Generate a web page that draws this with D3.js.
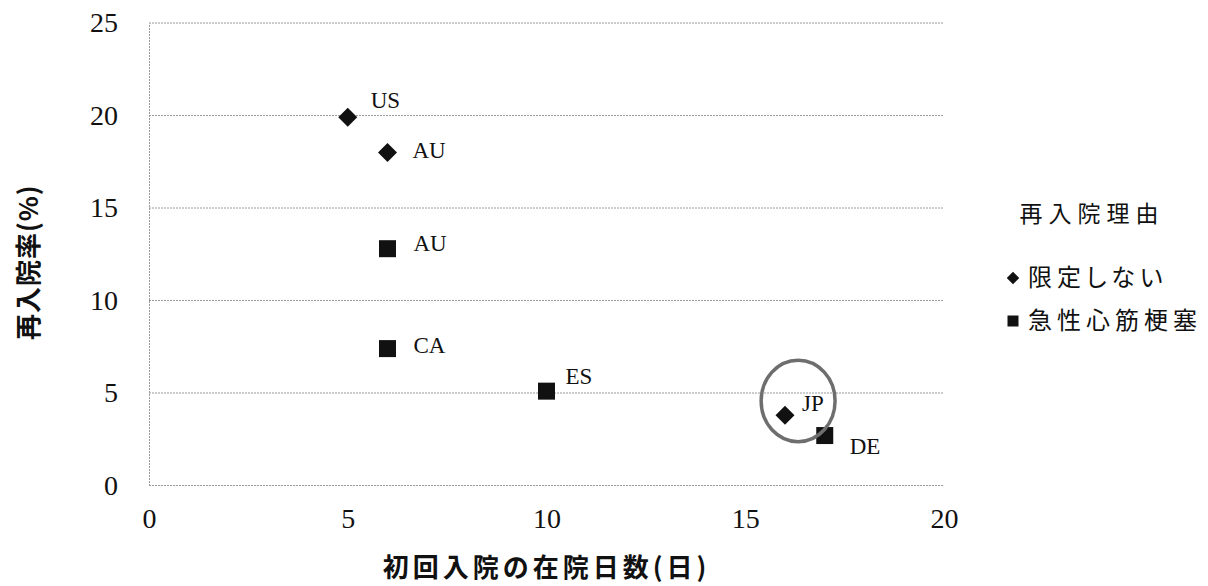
<!DOCTYPE html>
<html>
<head>
<meta charset="utf-8">
<script src="https://cdn.jsdelivr.net/npm/d3@7"></script>
<style>
  html, body { margin: 0; padding: 0; background: #fff; }
  svg { display: block; }
</style>
</head>
<body>
<svg id="chart" width="1208" height="586"></svg>
<script>
// Series: countries, length of stay of first admission (days), readmission rate (%)
const seriesNames = ["限定しない", "急性心筋梗塞"];
const unrestrictedCountries = ["US", "AU", "JP"];
const unrestrictedDays = [5, 6, 16];
const unrestrictedRates = [19.9, 18.0, 3.8];
const amiCountries = ["AU", "CA", "ES", "DE"];
const amiDays = [6, 6, 10, 17];
const amiRates = [12.8, 7.4, 5.1, 2.7];

const xTicks = [0, 5, 10, 15, 20];
const yTicks = [0, 5, 10, 15, 20, 25];

const xTitle = "初回入院の在院日数(日)";
const yTitle = "再入院率(%)";
const legendTitle = "再入院理由";

// Highlight ring around the Japanese data point (data units)
const highlight = { cx: 16.33, cy: 4.57, rx: 0.93, ry: 2.2 };

// Label nudges (pixels) so text clears its marker
const labelOffsets = {
  "限定しない": [[23, -17], [25, -3], [17, -12]],
  "急性心筋梗塞": [[26, -6], [26, -4], [19, -15], [25, 10]]
};

const svg = d3.select("#chart");
const margin = { left: 149, top: 23, right: 264, bottom: 100.5 };
const W = 1208, H = 586;
const innerW = W - margin.left - margin.right;
const innerH = H - margin.top - margin.bottom;

const x = d3.scaleLinear().domain([0, 20]).range([margin.left, margin.left + innerW]);
const y = d3.scaleLinear().domain([0, 25]).range([margin.top + innerH, margin.top]);

const serif = "'Liberation Serif', 'DejaVu Serif', serif";
const cjk = "'Noto Sans CJK JP', 'Noto Sans', sans-serif";
const gridColor = "#9a9a9a";

// Horizontal gridlines
svg.append("g")
  .selectAll("line")
  .data(yTicks)
  .join("line")
  .attr("x1", x(0)).attr("x2", x(20))
  .attr("y1", d => y(d)).attr("y2", d => y(d))
  .attr("stroke", gridColor)
  .attr("stroke-width", 1)
  .attr("stroke-dasharray", "2,1");

// Left axis using d3.axisLeft (labels only, line drawn in grey)
const yAxis = svg.append("g")
  .attr("transform", `translate(${x(0)},0)`)
  .call(d3.axisLeft(y).tickValues(yTicks).tickSize(0).tickPadding(31));
yAxis.select(".domain").attr("stroke", gridColor).attr("stroke-dasharray", "2,1");
yAxis.selectAll("text")
  .attr("font-family", serif)
  .attr("font-size", 28)
  .attr("fill", "#111");

// Bottom axis labels
const xAxis = svg.append("g")
  .attr("transform", `translate(0,${y(0)})`)
  .call(d3.axisBottom(x).tickValues(xTicks).tickSize(0).tickPadding(23));
xAxis.select(".domain").remove();
xAxis.selectAll("text")
  .attr("font-family", serif)
  .attr("font-size", 28)
  .attr("fill", "#111");

// Axis titles
svg.append("text")
  .attr("x", (x(0) + x(20)) / 2)
  .attr("y", 577)
  .attr("text-anchor", "middle")
  .attr("font-family", cjk)
  .attr("font-weight", "bold")
  .attr("font-size", 26)
  .attr("letter-spacing", 4)
  .attr("fill", "#111")
  .text(xTitle);

svg.append("text")
  .attr("transform", `translate(38,${(y(0) + y(25)) / 2 + 8}) rotate(-90)`)
  .attr("text-anchor", "middle")
  .attr("font-family", cjk)
  .attr("font-weight", "bold")
  .attr("font-size", 26)
  .attr("letter-spacing", 1)
  .attr("fill", "#111")
  .text(yTitle);

// Markers
const diamond = d3.symbol().type(d3.symbolDiamond2).size(230);
const square = d3.symbol().type(d3.symbolSquare).size(289);

const unrestricted = unrestrictedCountries.map((c, i) => ({ c, d: unrestrictedDays[i], r: unrestrictedRates[i], off: labelOffsets[seriesNames[0]][i] }));
const ami = amiCountries.map((c, i) => ({ c, d: amiDays[i], r: amiRates[i], off: labelOffsets[seriesNames[1]][i] }));

function drawSeries(data, sym, cls) {
  const g = svg.append("g").attr("class", cls);
  g.selectAll("path")
    .data(data)
    .join("path")
    .attr("transform", d => `translate(${x(d.d)},${y(d.r)})`)
    .attr("d", sym)
    .attr("fill", "#111");
  g.selectAll("text")
    .data(data)
    .join("text")
    .attr("x", d => x(d.d) + d.off[0])
    .attr("y", d => y(d.r) + d.off[1])
    .attr("dy", "0.35em")
    .attr("font-family", serif)
    .attr("font-size", 23)
    .attr("fill", "#111")
    .text(d => d.c);
}
drawSeries(unrestricted, diamond, "unrestricted");
drawSeries(ami, square, "ami");

// Highlight ring
svg.append("ellipse")
  .attr("cx", x(highlight.cx))
  .attr("cy", y(highlight.cy))
  .attr("rx", x(highlight.rx) - x(0))
  .attr("ry", y(0) - y(highlight.ry))
  .attr("fill", "none")
  .attr("stroke", "#6e6e6e")
  .attr("stroke-width", 3.5);

// Legend
const legend = svg.append("g");
legend.append("text")
  .attr("x", 1092).attr("y", 214).attr("dy", "0.35em")
  .attr("text-anchor", "middle")
  .attr("font-family", cjk)
  .attr("font-size", 23)
  .attr("letter-spacing", 6)
  .attr("fill", "#111")
  .text(legendTitle);

const legendSyms = [d3.symbol().type(d3.symbolDiamond2).size(100), d3.symbol().type(d3.symbolSquare).size(121)];
const legendY = [278, 321];
seriesNames.forEach((name, i) => {
  legend.append("path")
    .attr("transform", `translate(1013,${legendY[i]})`)
    .attr("d", legendSyms[i])
    .attr("fill", "#111");
  legend.append("text")
    .attr("x", 1028).attr("y", legendY[i]).attr("dy", "0.35em")
    .attr("font-family", cjk)
    .attr("font-size", 24)
    .attr("letter-spacing", 5)
    .style("font-feature-settings", "'palt'")
    .attr("fill", "#111")
    .text(name);
});
</script>
</body>
</html>
